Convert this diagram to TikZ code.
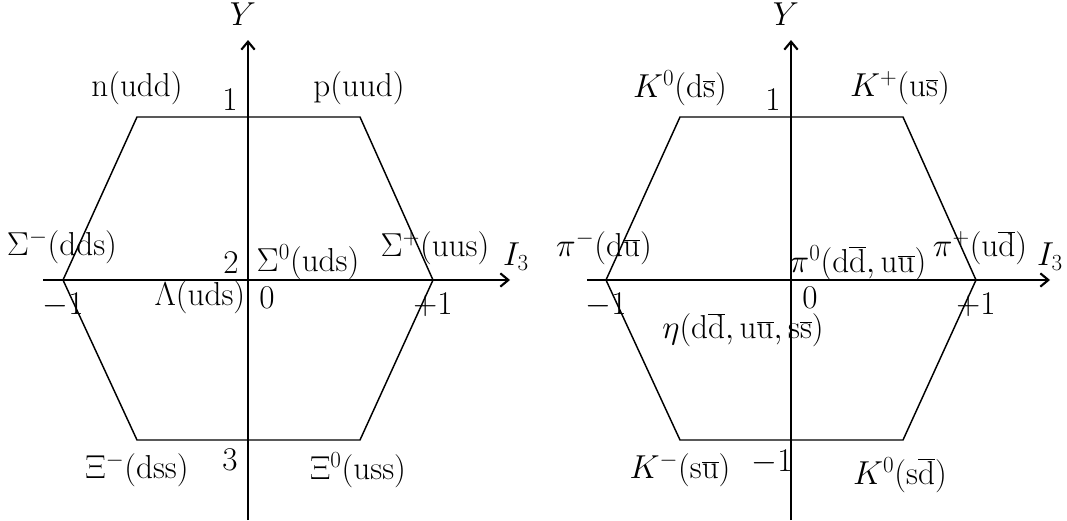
\documentclass[tikz,border=0pt]{standalone}
\usetikzlibrary{arrows.meta}
\begin{document}
\begin{tikzpicture}[x=0.75pt,y=-0.75pt,
  lab/.style={inner sep=0pt,font=\fontsize{26}{30}\selectfont},
  hexl/.style={line width=1.1pt},
  axthick/.style={line width=1.6pt},
  axthin/.style={line width=0.9pt}]
\useasboundingbox (0,0) rectangle (1067,521);
% ---------- left ----------
\coordinate (La) at (137,117); \coordinate (Lb) at (360,117); \coordinate (Lc) at (433,280);
\coordinate (Ld) at (360,440); \coordinate (Le) at (137,440); \coordinate (Lf) at (63,280);
\draw[hexl] (La)--(Lb)--(Lc)--(Ld)--(Le)--(Lf)--cycle;
\coordinate (LxL) at (43,280); \coordinate (LxR) at (510,280);
\coordinate (LyB) at (248,520); \coordinate (Lo) at (248,280); \coordinate (LyT) at (248,40);
\draw[axthin] (LxL)--(Lo);
\draw[axthick,-{Straight Barb[length=6pt,width=10pt]}] (Lo)--(LxR);
\draw[axthin] (LyB)--(Lo);
\draw[axthick,-{Straight Barb[length=6pt,width=10pt]}] (Lo)--(LyT);
\node[lab] (l1) at (137,88) {$\mathrm{n(udd)}$};
\node[lab] (l2) at (359,88) {$\mathrm{p(uud)}$};
\node[lab] (l3) at (230,100) {$1$};
\node[lab] (l4) at (62,247) {$\Sigma^{-}\mathrm{(dds)}$};
\node[lab] (l5) at (231,263) {$2$};
\node[lab] (l6) at (308,262) {$\Sigma^{0}\mathrm{(uds)}$};
\node[lab] (l7) at (435,248) {$\Sigma^{+}\mathrm{(uus)}$};
\node[lab] (l8) at (516,257) {$I_3$};
\node[lab] (l9) at (63,305) {$-1$};
\node[lab] (l10) at (200,297) {$\Lambda\mathrm{(uds)}$};
\node[lab] (l11) at (267,298) {$0$};
\node[lab] (l12) at (433,305) {$+1$};
\node[lab] (l13) at (243,14) {$Y$};
\node[lab] (l14) at (137,470) {$\Xi^{-}\mathrm{(dss)}$};
\node[lab] (l15) at (230,460) {$3$};
\node[lab] (l16) at (358,470) {$\Xi^{0}\mathrm{(uss)}$};
% ---------- right ----------
\coordinate (Ra) at (680,117); \coordinate (Rb) at (903,117); \coordinate (Rc) at (976,280);
\coordinate (Rd) at (903,440); \coordinate (Re) at (680,440); \coordinate (Rf) at (606,280);
\draw[hexl] (Ra)--(Rb)--(Rc)--(Rd)--(Re)--(Rf)--cycle;
\coordinate (RxL) at (587,280); \coordinate (RxR) at (1050,280);
\coordinate (RyB) at (791,520); \coordinate (Ro) at (791,280); \coordinate (RyT) at (791,40);
\draw[axthin] (RxL)--(Ro);
\draw[axthick,-{Straight Barb[length=6pt,width=10pt]}] (Ro)--(RxR);
\draw[axthin] (RyB)--(Ro);
\draw[axthick,-{Straight Barb[length=6pt,width=10pt]}] (Ro)--(RyT);
\node[lab] (r1) at (680,88) {$K^{0}(\mathrm{d}\overline{\mathrm{s}})$};
\node[lab] (r2) at (900,88) {$K^{+}(\mathrm{u}\overline{\mathrm{s}})$};
\node[lab] (r3) at (773,100) {$1$};
\node[lab] (r4) at (604,248) {$\pi^{-}(\mathrm{d}\overline{\mathrm{u}})$};
\node[lab] (r5) at (858,263) {$\pi^{0}(\mathrm{d}\overline{\mathrm{d}},\mathrm{u}\overline{\mathrm{u}})$};
\node[lab] (r6) at (980,248) {$\pi^{+}(\mathrm{u}\overline{\mathrm{d}})$};
\node[lab] (r7) at (1050,257) {$I_3$};
\node[lab] (r8) at (606,305) {$-1$};
\node[lab] (r9) at (810,298) {$0$};
\node[lab] (r10) at (976,305) {$+1$};
\node[lab] (r11) at (743,330) {$\eta(\mathrm{d}\overline{\mathrm{d}},\mathrm{u}\overline{\mathrm{u}},\mathrm{s}\overline{\mathrm{s}})$};
\node[lab] (r12) at (786,14) {$Y$};
\node[lab] (r13) at (680,470) {$K^{-}(\mathrm{s}\overline{\mathrm{u}})$};
\node[lab] (r14) at (772,462) {$-1$};
\node[lab] (r15) at (900,475) {$K^{0}(\mathrm{s}\overline{\mathrm{d}})$};
\end{tikzpicture}
\end{document}
